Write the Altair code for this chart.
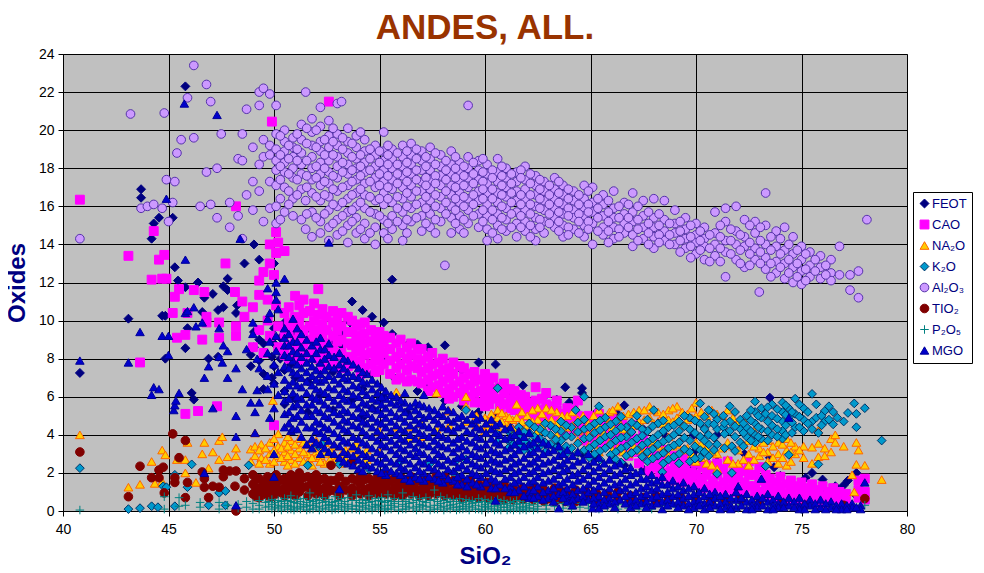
import altair as alt
import pandas as pd

SERIES = ["FEOT", "CAO", "NA₂O", "K₂O", "Al₂O₃", "TIO₂", "P₂O₅", "MGO"]
FILLS = ["#000080", "#ff00ff", "#ffcc00", "#0099cc", "#cc99ff", "#800000", "transparent", "#0000cc"]
STROKES = ["#000080", "#ff00ff", "#ff6600", "#003366", "#5533aa", "#800000", "#008080", "#000099"]
SHAPES = ["diamond", "square", "triangle-up", "diamond", "circle", "circle", "M-1,0H1M0,-1V1", "triangle-up"]
SIZES = [80, 72, 115, 100, 60, 72, 110, 125]
WIDTHS = [1, 1, 1, 1, 1, 1, 2, 0.8]

FEOT = [(40.8,[7.25]),(43.1,[10.1]),(43.7,[16.9,16.45]),(44.2,[14.3]),(44.3,[15.1]),(44.55,[15.4]),(44.7,[10.25]),(44.85,[10.25,8.0]),
(45.2,[15.4]),(45.3,[12.8]),(45.45,[12.1]),(45.8,[22.3,11.75,8.55]),(45.9,[9.6]),(46.1,[6.2]),(46.2,[5.85]),(46.4,[12.0]),(46.6,[10.45]),
(46.7,[11.2]),(46.9,[8.0]),(47.1,[11.4]),(47.35,[8.1,10.55]),(47.6,[11.8,10.7]),(47.8,[12.2,11.6]),(48.2,[10.4]),(48.25,[10.8]),(48.6,[13.0]),
(49.05,[14.0,9.4,8.6]),(49.3,[13.2,9.0,7.9]),(50.0,[13.0,9.6,8.8,7.6,6.7]),(50.5,[9.9,8.5,7.4,6.3,5.6]),(51.0,[9.3,8.1,7.0,5.9]),
(51.6,[9.6,8.4,6.8,5.2]),(52.2,[9.2,7.7,6.1]),(52.8,[9.0,7.3,5.3]),(53.7,[11.0,9.4,7.8,5.8]),(54.2,[10.55,8.8,6.4,4.9]),(54.65,[10.2,7.2,5.4]),
(55.2,[9.9,8.0,6.0]),(55.6,[12.15,9.3,7.1]),(56.3,[8.7,6.8,5.2]),(56.8,[8.75,6.3]),(57.3,[8.6,6.5]),(58.1,[8.7,5.8]),(58.9,[7.4,5.5]),
(59.7,[7.8,5.2]),(60.5,[7.7,5.0]),(61.2,[6.1,4.4]),(61.8,[6.6,4.2]),(62.8,[6.0,3.6]),(63.4,[5.85,3.4]),(63.8,[6.5,3.1]),(64.0,[5.7]),
(64.6,[6.45,6.2,3.0]),(65.3,[5.2,2.8]),(66.2,[5.2,2.6]),(66.6,[5.55,2.4]),(67.5,[4.3,2.2]),(68.6,[3.9,1.9]),(69.9,[4.0,3.1,2.3]),(71.0,[4.0,2.6]),
(72.3,[4.4,3.0,1.5]),(73.5,[5.95,2.8,1.1]),(73.7,[2.3]),(74.0,[1.85]),(75.2,[1.75]),(75.5,[2.0]),(76.0,[1.65,1.1]),(76.6,[1.3]),(77.0,[1.35]),(77.2,[1.6]),(77.6,[2.0,0.8]),
(48.9,[8.2,7.6]),(49.5,[8.8,7.2,6.4]),(49.9,[8.1,7.0]),(50.3,[9.1,8.0]),(50.8,[8.7,7.7]),(51.3,[9.5,8.9]),(51.9,[8.9,8.2]),(52.5,[9.5,8.6]),(53.2,[9.3,8.7]),(53.6,[9.9])]

CAO = [(40.8,[16.35]),(43.1,[13.4]),(43.65,[7.8]),(44.2,[12.15]),(44.3,[14.7]),(44.55,[13.2]),(44.7,[12.2]),(44.8,[13.45]),(44.9,[12.2]),
(45.2,[10.4]),(45.3,[11.25]),(45.4,[9.1]),(45.5,[11.65]),(45.8,[9.25,5.1]),(45.9,[10.4]),(46.2,[11.6]),(46.4,[5.25]),(46.6,[9.0]),(46.7,[11.5]),
(46.8,[10.2,9.9]),(47.3,[5.5]),(47.4,[9.9,9.1]),(47.7,[13.0]),(48.15,[11.5]),(48.2,[16.0,9.7,9.2]),(48.5,[11.0]),(48.6,[10.2]),(49.0,[10.7,8.6]),
(49.3,[12.1,11.35,9.5]),(49.5,[12.55,8.3]),(49.7,[11.1,10.0]),(49.8,[14.0,13.0,9.2]),(49.9,[20.45]),(50.0,[12.4,4.5]),(50.1,[14.65,13.55,10.8]),
(50.2,[14.1,9.7,8.6]),(50.5,[13.65,10.4,9.3,8.2]),(51.0,[11.3,10.2,9.7,9.0,8.4]),(51.4,[11.1,10.4,9.5,8.8,8.1]),(51.9,[10.9,10.0,9.3,8.6]),
(52.1,[11.65]),(52.3,[10.6,9.8,9.1,8.4,7.6]),(52.6,[21.5]),(52.8,[10.5,9.9,9.2,8.5,7.8]),(53.2,[10.4,9.7,9.0,8.3,7.5]),(53.7,[10.0,9.4,8.7,8.0]),
(54.1,[9.8,9.2,8.6,7.9,7.2]),(54.6,[9.5,8.9,8.3,7.7]),(55.0,[9.4,8.7,8.1,7.4]),(55.5,[9.1,8.5,7.9,7.2]),(56.0,[9.0,8.3,7.7,7.0]),(56.5,[8.8,8.2,7.6,6.9]),
(57.0,[8.5,7.9,7.3,6.7]),(57.5,[8.3,7.7,7.1,6.5]),(58.0,[8.0,7.4,6.8,6.2]),(58.5,[7.8,7.2,6.6,6.0]),(59.0,[7.5,7.0,6.4,5.8]),(59.5,[7.3,6.8,6.2,5.7]),
(60.0,[7.2,6.6,6.0,5.5]),(60.4,[7.0,6.4,5.9]),(60.9,[6.7,6.2,5.6]),(61.4,[6.3,5.8,5.3]),(61.9,[6.0,5.5,5.0]),(62.4,[6.5,5.8,5.2]),(62.9,[6.2,5.6,5.0]),
(63.4,[5.8,5.3,4.7]),(63.9,[5.4,4.9,4.4]),(64.4,[5.8,5.0,4.4]),(64.9,[5.0,4.5,3.9]),(65.4,[5.1,4.5,3.8]),(66.0,[5.0,4.3,3.6]),(66.5,[4.6,4.0,3.4]),
(67.0,[4.5,3.8,3.1]),(67.5,[4.0,3.4,2.8]),(68.0,[3.5,2.9,2.3]),(68.5,[3.2,2.6,2.0]),(69.0,[2.9,2.4,1.9]),(69.5,[2.8,2.2,1.7]),(70.0,[2.5,1.9,1.4]),
(70.5,[2.4,1.9,1.3]),(71.0,[2.5,1.9,1.3]),(71.5,[2.6,1.7,1.2]),(72.0,[2.3,1.8,1.1]),(72.5,[2.6,1.9,1.3]),(73.0,[2.3,1.6,1.0]),(73.5,[1.7,1.2,0.8]),
(74.0,[1.8,1.3,0.8]),(74.5,[1.6,1.1,0.7]),(75.0,[1.5,1.1,0.6]),(75.5,[1.4,0.9,0.5]),(76.0,[1.3,0.8,0.4]),(76.5,[1.2,0.7]),(77.1,[0.9,0.5]),(77.7,[1.6,1.1,0.7]),(78.0,[1.7,1.0,0.6]),
(50.7,[10.7,9.9,9.4,8.7,8.0]),(51.2,[10.8,10.0,9.3,8.6,7.9]),(51.7,[10.5,9.7,9.0,8.3]),(52.1,[10.3,9.5,8.8,8.0]),(52.5,[10.2,9.5,8.8,8.1]),(53.0,[10.1,9.5,8.9,8.2]),(53.5,[10.2,9.4,8.8,8.1,7.6]),
(53.9,[9.7,9.0,8.4,7.7]),(54.3,[9.9,9.3,8.8,8.2,7.5]),(54.8,[9.1,8.5,7.9,7.3]),(55.2,[9.2,8.8,8.3,7.7]),(55.8,[8.8,8.1,7.5,6.9]),(56.3,[8.6,8.0,7.4,6.8]),(56.8,[8.5,8.0,7.5,6.8]),(57.3,[8.1,7.5,6.9,6.3]),
(57.8,[7.8,7.2,6.6]),(58.3,[7.5,7.0,6.4,5.9]),(58.8,[7.6,6.8,6.2]),(59.3,[7.2,6.6,6.0]),(59.8,[6.9,6.3,5.7]),(60.2,[6.8,6.2,5.6]),(60.7,[6.5,5.9,5.4]),(61.2,[6.4,5.9,5.4]),(61.7,[6.1,5.6,5.1]),
(62.2,[5.7,5.2,4.8]),(62.7,[5.9,5.3,4.7]),(63.2,[5.5,5.0,4.5]),(63.7,[5.1,4.6,4.2]),(64.2,[5.3,4.7,4.2]),(64.7,[4.7,4.2,3.7]),(65.2,[4.8,4.2,3.6]),(65.7,[4.7,4.1,3.5]),(66.3,[4.4,3.8,3.2]),
(66.8,[4.2,3.5,2.9]),(67.3,[3.7,3.1,2.5]),(67.8,[3.2,2.7,2.1]),(68.3,[2.8,2.3,1.8]),(68.8,[2.7,2.1,1.6]),(69.3,[2.5,2.0,1.5]),(69.8,[2.6,2.0,1.5]),(70.3,[2.3,1.7,1.2]),(70.8,[2.2,1.6,1.1]),(71.3,[2.2,1.5,1.0]),
(71.8,[2.0,1.5,1.0]),(72.3,[2.1,1.5,1.0]),(72.8,[1.9,1.3,0.9]),(73.3,[1.9,1.4,0.9]),(73.8,[1.5,1.0,0.7]),(74.3,[1.4,0.9,0.6]),(74.8,[1.3,0.8,0.5]),(75.3,[1.2,0.7,0.5]),(75.8,[1.1,0.6]),(76.3,[1.0,0.6]),(76.8,[1.0,0.6])]

NA2O = [(40.8,[4.0]),(43.1,[1.25]),(43.65,[1.4]),(44.2,[2.6]),(44.35,[1.45]),(44.7,[3.2,1.55]),(44.85,[2.95]),(45.4,[2.7]),(45.8,[2.7,2.0]),(45.9,[3.6]),
(46.3,[1.5]),(46.6,[3.0]),(46.7,[3.6]),(46.9,[2.25]),(47.1,[3.1]),(47.4,[3.7,2.7]),(47.55,[3.9]),(47.8,[2.85]),(48.2,[3.3,2.9]),(48.9,[3.25,2.6]),
(49.1,[4.1,3.4,2.9]),(49.4,[3.5,2.8]),(49.8,[3.6,3.0,2.5]),(49.95,[5.8]),(50.2,[4.05,3.4,2.9]),(50.5,[3.6,3.1,2.6]),(50.8,[3.7,3.2,2.7]),(51.2,[3.8,3.3,2.8]),
(51.6,[3.5,3.0,2.6]),(52.0,[3.7,3.1,2.8]),(52.4,[3.6,3.0,2.5]),(52.9,[3.4,2.9,2.6]),(53.4,[3.2,2.7]),(53.9,[3.5,2.9]),(54.4,[3.2,2.7]),(55.0,[4.2,3.1]),
(55.8,[6.25,4.4]),(56.4,[4.4,3.8]),(57.0,[4.6,3.9]),(57.7,[6.2,4.3]),(58.3,[5.25,4.5]),(59.1,[6.0,5.5,4.7]),(59.6,[5.0,4.5]),(60.0,[4.9,4.5,4.2]),
(60.3,[5.1,4.6]),(60.6,[5.3,4.9,4.4]),(61.0,[5.0,4.6]),(61.3,[4.8,4.3]),(61.5,[5.6,4.9,4.4]),(62.0,[5.0,4.5]),(62.5,[5.4,4.8,4.2]),(62.9,[5.4,4.7]),(63.4,[5.2,4.6,4.0]),
(63.9,[5.0,4.4]),(64.4,[4.8,4.2,3.7]),(64.9,[4.6,4.0,3.4]),(65.4,[5.3,4.5,3.8,3.1]),(65.9,[5.2,4.7,3.6]),(66.3,[5.5,4.8,3.3]),(66.8,[5.1,4.2,3.0]),(67.3,[5.3,4.7,3.2]),
(67.8,[5.5,4.9,3.6,2.8]),(68.2,[5.2,4.7,3.4]),(68.7,[5.3,4.8,3.9,2.9]),(69.1,[5.5,4.9,3.5]),(69.6,[5.1,4.8,3.3]),(70.0,[5.7,5.0,3.6,2.6]),(70.5,[5.0,3.3,2.5]),(71.0,[5.1,3.0,2.2]),
(71.5,[5.3,3.6,2.7]),(72.0,[4.6,3.2,2.5]),(72.5,[4.9,3.7,3.0,2.4]),(73.0,[3.9,3.3,2.9]),(73.4,[3.7,3.1,2.6]),(73.9,[3.6,3.0,2.5]),(74.3,[3.8,3.2,2.4]),(74.7,[3.4,3.0]),
(75.1,[3.4,2.8]),(75.5,[3.35,2.5]),(75.8,[4.25,3.55,2.85]),(76.1,[3.3,2.9]),(76.4,[3.1,3.8]),(76.6,[4.0,3.6]),(77.0,[3.4]),(77.4,[1.9]),(77.5,[1.0]),(77.6,[3.6,2.45]),(77.7,[3.2]),(78.0,[2.4]),(78.8,[1.65]),
(49.3,[3.2,2.5]),(49.6,[3.3,2.7]),(50.0,[3.8,3.2,2.6]),(50.35,[3.3,2.8]),(50.65,[3.9,3.4,2.9,2.4]),(51.0,[3.5,3.0,2.5]),(51.4,[3.6,3.1,2.6]),(51.8,[3.3,2.8,2.4]),(52.2,[3.4,2.9,2.6]),(52.65,[3.2,2.7]),
(53.2,[3.0,2.5]),(53.65,[3.3,2.7]),(60.15,[4.7,4.35]),(60.8,[5.15,4.7]),(61.15,[4.9,4.45]),(61.75,[5.2,4.7,4.2]),(62.25,[5.3,4.7]),(62.7,[5.1,4.5]),(63.15,[5.3,4.8]),(63.65,[5.0,4.4]),(64.15,[5.2,4.5]),(64.65,[5.0,4.3]),
(65.15,[5.0,4.2,3.5]),(65.65,[4.9,4.1]),(66.05,[5.3,4.4,3.2]),(66.55,[5.0,4.3,3.1]),(67.05,[5.2,4.5,3.4]),(67.55,[5.3,4.8,3.1]),(68.0,[5.3,4.6,3.7]),(68.45,[5.1,4.6,3.2]),(68.9,[5.4,4.7,3.4]),(69.35,[5.2,4.5,3.2]),(69.8,[5.4,4.9,3.0]),
(70.25,[5.2,3.5,2.8]),(70.75,[5.3,3.1,2.4]),(71.25,[5.0,3.3]),(71.75,[4.9,3.4,2.5]),(72.25,[4.5,3.5,2.7]),(72.75,[4.2,3.4,2.7]),(73.2,[3.6,3.1]),(73.65,[3.4,2.8]),(74.1,[3.5,2.8]),(74.5,[3.6,3.1,2.6]),(74.9,[3.2])]

K2O = [(40.8,[2.25]),(43.1,[0.1]),(43.65,[0.15]),(44.2,[0.25]),(44.5,[0.2]),(44.75,[1.3]),(44.9,[1.25]),(45.3,[1.9,0.25]),(45.9,[1.25]),(46.1,[2.45]),(46.9,[0.3]),(47.4,[0.95]),(47.7,[1.05,0.3]),
(48.8,[2.4]),(50.6,[1.5]),(51.6,[2.4]),(52.1,[3.4]),(52.3,[3.5]),(53.1,[2.45]),(54.5,[2.2]),(56.0,[1.8,2.6]),(57.4,[2.5]),(58.6,[2.6,1.9]),(59.1,[5.3,2.7]),
(60.6,[6.45,4.0,3.6]),(61.1,[4.2,3.7,3.3]),(61.6,[4.4,3.9,3.4]),(62.1,[4.6,4.1,3.6,3.2]),(62.6,[4.3,3.8,3.4]),(63.1,[4.5,4.0,3.5]),(63.6,[4.7,4.2,3.7,3.2]),(64.1,[4.4,3.9,3.3]),
(64.3,[5.3]),(64.7,[6.0,4.8,4.3,3.8,3.2]),(65.2,[4.6,4.1,3.5,3.0]),(65.4,[5.5]),(65.7,[4.9,4.4,3.9,3.3]),(66.2,[4.7,4.2,3.7,3.1,2.7]),(66.7,[4.4,3.9,3.4,2.9]),(67.2,[5.0,4.5,3.8,3.2]),
(67.7,[4.8,4.2,3.6,3.1,2.6]),(68.0,[5.3]),(68.2,[4.6,4.0,3.5,2.9]),(68.4,[2.05]),(68.7,[4.4,3.8,3.3,2.7]),(69.2,[4.7,4.2,3.6,3.0,2.5]),(69.7,[4.9,4.3,3.7,3.1,2.6]),(70.2,[5.65,4.6,3.9,3.2,2.8]),
(70.6,[5.3,4.6,4.0,3.5,2.9]),(71.0,[4.8,4.3,3.5,1.95]),(71.3,[5.0,4.4]),(71.6,[5.5,4.7,4.2]),(71.7,[3.4,2.0]),(72.1,[4.8,4.3,3.6]),(72.4,[5.0,4.4,3.9]),(72.8,[5.75,5.2,4.6,4.0,3.6]),
(73.1,[5.4,4.9,4.3,3.8]),(73.3,[5.1,2.35]),(73.6,[5.6,5.0,4.5,4.0]),(74.1,[5.7,5.2,4.7,4.2,3.8]),(74.4,[5.4,4.9,2.95]),(74.7,[5.9,5.1,4.4]),(75.1,[5.4,4.8,4.2]),(75.5,[6.15,4.7,4.3]),
(75.7,[5.6,4.9]),(75.8,[2.45,4.1]),(76.1,[5.25,4.7]),(76.3,[5.5,4.8]),(76.7,[4.9]),(77.0,[4.7]),(77.2,[5.15]),(77.5,[5.65]),(77.6,[5.1,4.4]),(78.0,[5.4]),(78.8,[3.7]),
(61.35,[3.95,3.5]),(61.85,[4.15,3.65,3.2]),(62.35,[4.4,3.9,3.3]),(62.85,[4.6,4.1,3.6,3.1]),(63.35,[4.3,3.75,3.3]),(63.85,[4.5,3.95,3.4,3.0]),(64.4,[4.65,4.15,3.55,3.05]),(64.95,[4.4,3.85,3.3,2.8]),
(65.45,[4.75,4.25,3.7,3.15,2.7]),(65.95,[4.55,4.0,3.5,2.95]),(66.45,[4.95,4.4,3.85,3.3,2.55]),(66.95,[4.65,4.15,3.6,3.05]),(67.45,[4.3,3.95,3.45,2.85]),(67.95,[4.45,3.8,3.25,2.75]),(68.45,[4.75,4.2,3.65,3.05,2.5]),
(68.95,[4.5,4.0,3.45,2.85]),(69.45,[5.0,4.45,3.85,3.25]),(69.95,[4.75,4.1,3.4,2.75]),(70.4,[4.95,4.3,3.7,3.1]),(70.85,[5.1,4.55,3.85,3.2]),(71.35,[4.6,4.05,3.3]),(71.85,[5.2,4.45,3.9,3.15]),(72.25,[4.6,4.1,3.4]),(72.6,[5.3,4.75,4.2,3.7]),
(72.95,[5.0,4.4,3.9]),(73.4,[5.45,4.7,4.2,3.7]),(73.85,[5.35,4.85,4.3,3.9]),(74.25,[5.55,5.05,4.5,4.0]),(74.55,[5.2,4.65,4.1]),(74.9,[5.6,4.95,4.4]),(75.3,[5.2,4.6]),(75.95,[5.0,4.5]),(76.5,[5.2,4.55])]

AL2O3 = [(40.8,[14.3]),(43.2,[20.85]),(43.7,[15.9]),(44.0,[16.0]),(44.3,[16.1]),(44.7,[15.9]),(44.8,[20.9]),(44.9,[17.4]),(45.0,[15.2]),(45.2,[16.2]),(45.3,[17.3]),(45.4,[18.8]),(45.6,[19.5]),
(45.9,[21.7]),(46.2,[23.4,19.6]),(46.5,[16.0]),(46.8,[22.4,17.8]),(47.0,[21.5,16.1]),(47.3,[18.0,15.4]),(47.5,[19.8]),(47.9,[16.2,14.9]),(48.3,[18.5,15.5]),(48.5,[19.8,18.4,14.3]),(48.7,[21.1,16.6]),
(49.0,[17.3,15.8,19.1]),(49.3,[22.0,21.3,18.2,16.8]),(49.5,[22.2,19.5,18.6,15.2]),(49.8,[21.9,19.2,18.7,17.3,15.9]),(50.1,[21.3,19.8,19.0,18.4,17.9,17.1,16.0,15.1]),
(50.5,[20.0,19.4,18.9,18.3,17.8,17.0,15.7]),(50.9,[19.6,19.1,18.6,18.0,17.5,16.4,15.5]),(51.3,[20.3,19.5,18.8,18.2,17.7,16.9,15.3]),(51.5,[22.0,16.3,14.8]),
(51.8,[20.6,19.9,19.2,18.6,18.0,17.4,16.7,15.7,14.4]),(52.2,[21.2,20.2,19.4,18.9,18.3,17.7,17.1,16.3,15.2,14.6]),(52.6,[20.5,19.7,19.1,18.4,17.8,17.2,16.5,15.8,14.9,14.2]),
(53.0,[21.4,19.8,19.2,18.6,18.1,17.5,16.8,16.0,15.3,14.5]),(53.2,[21.5]),(53.5,[20.1,19.4,18.8,18.2,17.7,17.1,16.4,15.7,15.0,14.1]),(53.9,[19.7,19.1,18.5,18.0,17.4,16.7,16.0,15.4,14.6]),
(54.3,[19.5,18.9,18.3,17.8,17.2,16.6,15.9,15.1,14.3]),(54.8,[19.2,18.7,18.1,17.5,17.0,16.3,15.6,14.9,14.0]),(55.2,[19.9,18.9,18.4,17.9,17.3,16.7,16.1,15.3,14.6]),
(55.6,[19.0,18.5,18.0,17.4,16.9,16.2,15.5,14.8]),(56.1,[19.2,18.6,18.1,17.6,17.0,16.4,15.7,15.0,14.2]),(56.5,[19.3,18.7,18.2,17.7,17.1,16.5,15.9,15.2]),(57.0,[18.9,18.4,17.9,17.3,16.8,16.2,15.5,14.7]),
(57.4,[19.1,18.5,17.9,17.4,16.9,16.3,15.6,14.9]),(57.9,[18.7,18.1,17.6,17.1,16.5,15.9,15.2]),(58.1,[12.9]),(58.4,[18.9,18.2,17.7,17.1,16.6,16.0,15.4,14.6]),(58.8,[18.3,17.8,17.3,16.7,16.2,15.5,14.8]),
(59.2,[21.3,18.6,18.0,17.5,17.0,16.4,15.8,15.1]),(59.7,[18.4,17.9,17.4,16.8,16.3,15.6,14.9]),(60.1,[18.2,17.7,17.2,16.7,16.1,15.5,14.8,14.2]),(60.6,[18.5,17.8,17.3,16.7,16.2,15.6,15.0,14.3]),
(61.0,[18.0,17.5,17.0,16.5,15.9,15.3,14.7]),(61.5,[17.8,17.3,16.8,16.3,15.7,15.1,14.4]),(61.9,[18.1,17.4,16.9,16.4,15.8,15.2,14.7]),(62.4,[17.6,17.1,16.6,16.0,15.4,14.8,14.2]),
(62.8,[17.3,16.8,16.3,15.8,15.2,14.6]),(63.3,[17.5,16.9,16.4,15.9,15.4,14.9]),(63.7,[17.1,16.6,16.1,15.6,15.0,14.4]),(64.2,[16.8,16.3,15.8,15.4,14.8]),(64.7,[17.1,16.4,15.9,15.5,15.0,14.4]),
(65.1,[17.0,16.2,15.7,15.1,14.0]),(65.6,[16.6,16.1,15.5,14.9,14.5]),(66.1,[16.8,15.9,15.4,14.9,14.3]),(66.6,[16.2,15.6,15.1,14.6]),(67.0,[16.7,15.7,15.2,14.5,13.9]),(67.5,[16.3,15.5,14.9,14.3]),
(68.0,[16.4,15.4,14.9,14.4,13.8]),(68.5,[16.3,15.3,14.7,14.2]),(69.0,[15.8,15.1,14.6,14.0]),(69.5,[15.4,14.8,14.3,13.8]),(70.0,[15.1,14.5,14.1,13.5]),(70.4,[14.9,14.3,13.9,13.2]),
(70.9,[15.7,14.6,14.0,13.4]),(71.4,[15.9,15.2,14.2,13.6,12.3]),(71.9,[16.0,14.7,14.0,13.2]),(72.3,[15.3,14.4,13.9,12.8]),(72.8,[15.2,14.6,13.8,13.2]),(73.0,[11.5]),(73.3,[16.7,15.0,14.0,13.3,12.7]),
(73.8,[14.7,13.9,13.1,12.5]),(74.2,[14.9,13.7,13.0,12.2]),(74.6,[14.4,13.5,12.8,12.0]),(75.0,[13.9,13.2,12.6,11.9]),(75.4,[13.6,12.9,12.3]),(75.9,[13.4,12.8,12.2]),(76.4,[13.2,12.5,12.1]),
(76.8,[13.9,12.4]),(77.3,[12.4,11.6]),(77.7,[12.6,11.2]),(78.1,[15.3]),
(50.3,[19.7,18.7,18.1,17.4,16.4,15.3]),(50.7,[19.2,18.5,17.7,16.8,16.1]),(51.1,[19.8,19.0,18.4,17.4,16.6]),(51.55,[20.1,19.3,18.4,17.6,17.0,15.6]),(52.0,[20.0,19.1,18.1,17.5,16.5,15.4]),(52.4,[19.5,18.7,18.0,17.3,16.6,15.6]),
(52.8,[20.1,19.4,18.7,17.6,16.9,16.1,15.1]),(53.25,[19.6,19.0,18.3,17.8,17.0,16.2,15.5,14.7]),(53.7,[19.3,18.6,17.9,17.3,16.6,15.8,15.2]),(54.1,[19.9,18.7,18.1,17.6,16.9,16.2,14.8]),(54.55,[19.0,18.5,17.9,17.3,16.5,15.7,14.6]),
(55.0,[18.9,18.3,17.7,17.1,16.4,15.5]),(55.4,[19.2,18.7,18.2,17.6,17.0,16.4,15.1,14.3]),(55.85,[18.8,18.2,17.7,17.2,16.5,15.9,15.2]),(56.3,[18.9,18.3,17.8,17.3,16.7,16.0,15.3,14.6]),(56.75,[19.0,18.5,17.9,17.4,16.8,16.1,15.4]),
(57.2,[18.6,18.1,17.5,17.1,16.5,15.9,15.1]),(57.65,[18.8,18.2,17.6,17.2,16.6,16.0,15.3,14.6]),(58.15,[18.4,17.9,17.4,16.8,16.2,15.6]),(58.6,[18.6,18.0,17.5,17.0,16.4,15.8,15.1]),(59.0,[18.1,17.6,17.1,16.5,16.0,15.3,14.6]),
(59.45,[18.3,17.7,17.2,16.6,16.1,15.5]),(59.9,[18.5,17.8,17.3,16.9,16.4,15.8,15.2]),(60.35,[17.9,17.5,16.9,16.4,15.8,15.3,14.6]),(60.8,[18.1,17.6,17.1,16.6,16.0,15.4,14.8]),(61.25,[17.7,17.2,16.7,16.2,15.6,14.9]),
(61.7,[17.9,17.5,16.6,16.1,15.5,14.9]),(62.15,[17.7,17.2,16.6,16.1,15.6,15.0,14.4]),(62.6,[17.4,16.9,16.4,15.9,15.3,14.9]),(63.05,[17.1,16.6,16.1,15.6,15.1]),(63.5,[17.3,16.7,16.2,15.7,15.2,14.7]),(63.95,[16.9,16.4,15.9,15.5,14.9,14.5]),
(64.45,[16.6,16.1,15.6,15.2,14.6]),(64.9,[16.8,16.1,15.7,15.2,14.8]),(65.35,[16.4,15.9,15.4,14.7]),(65.85,[16.3,15.7,15.2,14.7,14.1]),(66.35,[16.0,15.4,14.8,14.4]),(66.8,[16.1,15.4,14.9]),(67.25,[16.0,15.3,14.8,14.2]),
(67.75,[15.7,15.1,14.6,14.0]),(68.25,[15.6,15.0,14.5,14.1]),(68.75,[15.1,14.5,14.0]),(69.25,[15.2,14.7,14.2,13.6]),(69.75,[15.0,14.4,13.9,13.3]),(70.2,[14.7,14.2,13.7]),(70.65,[14.5,13.8,13.1]),(71.15,[15.0,14.4,13.8,13.1]),
(71.65,[14.8,14.2,13.5]),(72.1,[14.5,13.7,13.0]),(72.55,[15.0,14.1,13.5,12.9]),(73.05,[14.9,14.2,13.6,13.0]),(73.55,[14.4,13.7,13.0,12.3]),(74.0,[14.3,13.5,12.8]),(74.4,[14.0,13.2,12.5]),(74.8,[13.7,13.0,12.3]),(75.2,[13.5,12.7,12.1]),(75.65,[13.2,12.6]),(76.15,[12.9,12.4])]

TIO2 = [(40.8,[3.1]),(43.1,[0.75]),(43.65,[2.35]),(44.2,[1.75]),(44.55,[2.15,1.75]),(44.75,[2.3]),(44.8,[0.95]),(45.2,[4.05]),(45.3,[1.5,1.75]),(45.5,[2.8]),(45.8,[3.7,0.7]),(45.9,[1.5]),
(46.6,[2.05]),(46.7,[1.7,1.25]),(46.9,[0.7]),(47.1,[1.3]),(47.4,[1.25]),(47.6,[2.15,1.8]),(47.9,[2.1]),(48.15,[1.3]),(48.2,[2.1,0.0]),(48.6,[1.7,1.1]),(49.0,[1.9,1.4,0.9]),
(49.3,[1.7,1.2,0.7]),(49.7,[1.8,1.3,0.8]),(50.1,[1.9,1.4,0.9]),(50.5,[1.7,1.2,0.8]),(50.8,[1.9,1.4,0.9]),(51.2,[2.0,1.5,1.0]),(51.6,[1.8,1.3,0.8]),(52.0,[1.9,1.4,0.9]),(52.4,[1.7,1.2,0.8]),
(52.7,[2.4,1.6,1.1]),(53.1,[1.8,1.3,0.8]),(53.7,[2.5,1.7,1.2,0.8]),(54.1,[1.9,1.4,0.9]),(54.5,[1.7,1.2,0.8]),(54.9,[1.8,1.3,0.9]),(55.3,[1.9,1.4,0.9]),(55.7,[1.7,1.2,0.8]),(56.1,[1.7,1.3,0.8]),
(56.5,[1.8,1.3,0.9]),(56.9,[1.6,1.1,0.8]),(57.3,[1.7,1.2,0.8]),(57.7,[1.9,1.3,0.9]),(58.1,[1.8,1.2,0.8]),(58.5,[1.6,1.1,0.8]),(58.9,[1.5,1.1,0.7]),(59.3,[1.6,1.1,0.7]),(59.7,[1.4,1.0,0.7]),(60.1,[1.5,1.0,0.7]),
(60.5,[1.3,0.9,0.6]),(60.9,[1.4,1.0,0.6]),(61.3,[1.2,0.8,0.6]),(61.8,[1.2,0.9,0.6]),(62.3,[1.3,0.9,0.6]),(62.8,[1.1,0.8,0.5]),(63.3,[1.2,0.8,0.5]),(63.8,[1.0,0.7,0.5]),(64.3,[1.1,0.7,0.5]),(64.8,[1.0,0.7]),
(65.3,[0.9,0.6]),(65.8,[0.9,0.6]),(66.3,[1.0,0.6]),(66.9,[0.8,0.5]),(67.5,[0.7,0.5]),(68.1,[0.8,0.5]),(68.7,[0.6]),(69.3,[0.7,0.4]),(70.0,[0.6]),(70.7,[0.5]),(71.4,[0.5]),(72.1,[0.6]),(73.0,[0.4]),(74.1,[0.4]),(75.2,[0.3]),(77.0,[0.3]),(78.0,[0.65]),
(49.15,[1.65,1.15,0.75]),(49.5,[1.5,1.0]),(49.9,[1.6,1.1,0.75]),(50.3,[1.6,1.1]),(50.65,[1.5,1.0]),(51.0,[1.7,1.2,0.8]),(51.4,[1.75,1.25]),(51.8,[1.6,1.1]),(52.2,[1.65,1.15]),(52.55,[1.45,1.0]),(52.9,[1.6,1.05]),(53.4,[1.55,1.1]),
(53.9,[1.6,1.05]),(54.3,[1.65,1.1]),(54.7,[1.5,1.0]),(55.1,[1.6,1.15]),(55.5,[1.55,1.05]),(55.9,[1.5,1.0]),(56.3,[1.55,1.05]),(56.7,[1.5,1.05]),(57.1,[1.4,1.0]),(57.5,[1.5,1.0]),(57.9,[1.6,1.1]),(58.3,[1.5,1.0]),(58.7,[1.35,0.95]),
(59.1,[1.3,0.9]),(59.5,[1.35,0.9]),(59.9,[1.2,0.85]),(60.3,[1.25,0.85]),(60.7,[1.15,0.8]),(61.1,[1.15,0.8]),(61.55,[1.05,0.75]),(62.05,[1.05,0.75]),(62.55,[1.1,0.7]),(63.05,[0.95,0.65]),(63.55,[1.0,0.65]),(64.05,[0.85,0.6])]

P2O5 = [(40.8,[0.05]),(44.8,[0.75,0.1]),(45.5,[0.7,0.25]),(45.8,[0.3]),(46.5,[0.45,0.2]),(47.4,[0.45,0.1]),(47.8,[0.3]),(48.3,[0.35,0.15]),(48.7,[0.5,0.2]),(49.0,[0.4,0.1]),(49.3,[0.55,0.3,0.1]),(49.6,[0.45,0.2]),
(49.9,[0.6,0.35,0.1]),(50.2,[0.55,0.3,0.15]),(50.5,[0.65,0.4,0.2]),(50.8,[0.8,0.5,0.25,0.1]),(51.1,[0.6,0.4,0.15]),(51.4,[0.65,0.35,0.2]),(51.7,[0.95,0.55,0.3,0.1]),(52.0,[0.6,0.4,0.2]),(52.3,[0.7,0.45,0.15]),
(52.6,[0.6,0.35,0.2]),(52.9,[0.75,0.5,0.25,0.1]),(53.2,[0.65,0.4,0.2]),(53.5,[0.7,0.35,0.15]),(53.9,[0.85,0.55,0.3,0.1]),(54.2,[0.6,0.4,0.2]),(54.5,[0.8,0.45,0.15]),(54.8,[0.65,0.35,0.2]),(55.1,[0.7,0.5,0.25]),
(55.4,[0.85,0.55,0.3,0.1]),(55.7,[0.65,0.4,0.2]),(56.1,[0.95,0.6,0.35,0.1]),(56.4,[0.6,0.4,0.2]),(56.6,[0.75,0.45,0.15]),(56.9,[0.65,0.35,0.2]),(57.2,[0.7,0.45,0.25]),(57.6,[1.1,0.6,0.3,0.1]),(57.9,[0.75,0.4,0.2]),
(58.2,[0.65,0.45,0.15]),(58.5,[0.6,0.35,0.2]),(58.8,[0.65,0.4,0.25,0.1]),(59.1,[0.6,0.35,0.15]),(59.4,[0.55,0.4,0.2]),(59.7,[0.65,0.45,0.1]),(60.0,[0.6,0.35,0.2]),(60.3,[0.55,0.4,0.15]),(60.6,[0.6,0.3,0.1]),
(60.9,[0.55,0.35,0.2]),(61.2,[0.5,0.3,0.1]),(61.5,[0.55,0.35,0.15]),(61.8,[0.5,0.25,0.1]),(62.1,[0.5,0.3,0.15]),(62.5,[0.45,0.25,0.1]),(62.9,[0.5,0.3,0.1]),(63.3,[0.45,0.25]),(63.7,[0.4,0.15]),(64.1,[0.45,0.25,0.1]),
(64.5,[0.4,0.2]),(64.9,[0.4,0.15]),(65.4,[0.35,0.1]),(65.8,[0.4,0.2]),(66.3,[0.35,0.1]),(66.8,[0.3,0.15]),(67.3,[0.35,0.1]),(67.9,[0.25,0.1]),(68.5,[0.3]),(69.1,[0.2]),(70.0,[0.2]),(71.0,[0.15]),(72.0,[0.15]),(73.5,[0.1]),(75.0,[0.1]),(78.0,[0.3]),
(49.75,[0.5,0.25]),(50.05,[0.45,0.2]),(50.35,[0.5,0.25,0.05]),(50.65,[0.55,0.3,0.1]),(50.95,[0.45,0.2,0.05]),(51.25,[0.5,0.25,0.1]),(51.55,[0.45,0.25,0.05]),(51.85,[0.5,0.3,0.1]),(52.15,[0.55,0.25,0.05]),(52.45,[0.5,0.3,0.1]),(52.75,[0.45,0.3,0.05]),
(53.05,[0.55,0.3,0.1]),(53.35,[0.5,0.25,0.05]),(53.7,[0.55,0.25,0.1]),(54.05,[0.45,0.25,0.05]),(54.35,[0.55,0.3,0.1]),(54.65,[0.5,0.25,0.05]),(54.95,[0.55,0.3,0.1]),(55.25,[0.45,0.15,0.05]),(55.55,[0.5,0.3,0.1]),(55.9,[0.5,0.25,0.05]),
(56.25,[0.5,0.25,0.1]),(56.75,[0.55,0.25,0.05]),(57.05,[0.5,0.3,0.1]),(57.4,[0.55,0.2,0.05]),(57.75,[0.5,0.3,0.1]),(58.05,[0.55,0.25,0.05]),(58.35,[0.5,0.3,0.1]),(58.65,[0.5,0.2,0.05]),(58.95,[0.45,0.25,0.1]),(59.25,[0.5,0.25,0.05]),
(59.55,[0.45,0.3,0.1]),(59.85,[0.5,0.25,0.05]),(60.15,[0.45,0.25,0.1]),(60.45,[0.5,0.25,0.05]),(60.75,[0.45,0.2,0.05]),(61.05,[0.4,0.2,0.05]),(61.35,[0.45,0.25,0.05]),(61.65,[0.4,0.2,0.05]),(61.95,[0.4,0.2,0.05]),(62.3,[0.35,0.15,0.05])]

MGO = [(40.8,[7.9]),(43.1,[7.8]),(43.65,[9.4]),(44.2,[6.1]),(44.3,[6.5]),(44.55,[6.4]),(44.7,[9.2]),(44.9,[16.4]),(45.0,[9.2,8.2]),(45.25,[5.3]),(45.3,[5.55]),(45.35,[5.8]),(45.5,[6.2]),
(45.75,[21.4]),(45.8,[13.2,10.4]),(45.9,[10.5]),(46.2,[10.7]),(46.3,[9.7]),(46.6,[9.9]),(46.7,[7.0,2.0]),(46.9,[7.6]),(47.1,[5.4]),(47.3,[20.8]),(47.4,[9.6,8.1]),(47.55,[7.8]),(47.6,[8.7]),
(47.8,[8.4,7.0]),(48.2,[7.5,5.0,3.9,0.3]),(48.4,[14.3]),(48.5,[6.4]),(48.7,[8.5]),(48.9,[5.7]),(49.0,[9.9,9.3]),(49.1,[5.2,4.1]),(49.2,[6.35,8.0]),(49.3,[5.7,7.5]),(49.7,[11.7,10.1,8.3,7.1,6.4]),
(49.8,[10.4,8.9,4.9]),(50.0,[7.7,6.7,5.4,3.0,1.8]),(50.1,[12.0,11.5,11.1,9.2,8.4]),(50.2,[10.6,7.3,6.1]),(50.5,[12.2,9.6,9.1,8.7,8.2,7.6,6.9,6.3,5.8,5.1,4.4]),
(50.8,[4.2]),(50.9,[10.1,8.9,8.4,7.9,7.3,6.8,6.2,5.5,4.9,4.3]),(51.3,[9.3,8.6,8.1,7.5,7.0,6.5,5.9,5.3,4.7,3.9]),(51.8,[8.7,8.0,7.6,7.1,6.6,6.0,5.6,5.0,4.4,3.8,3.3]),
(52.2,[9.1,8.5,7.8,7.2,6.8,6.3,5.8,5.2,4.6,4.1,3.5,3.0]),(52.6,[14.1,8.8,8.2,7.6,7.1,6.5,6.0,5.4,4.9,4.3,3.7,3.1]),(53.1,[8.3,7.7,7.2,6.7,6.1,5.6,5.1,4.5,3.9,3.4,2.8,1.15]),
(53.5,[7.9,7.3,6.9,6.3,5.8,5.2,4.7,4.2,3.6,3.0,2.5]),(54.0,[7.5,7.0,6.5,6.0,5.4,4.9,4.4,3.8,3.2,2.7,2.2]),(54.4,[7.2,6.7,6.1,5.6,5.1,4.6,4.0,3.5,2.9,2.4]),
(54.9,[6.7,6.2,5.8,5.3,4.7,4.2,3.7,3.1,2.6,2.1]),(55.3,[6.3,5.9,5.4,4.9,4.4,3.9,3.4,2.8,2.3,1.9]),(55.8,[6.0,5.6,5.0,4.5,4.0,3.5,3.0,2.5,2.0]),(56.2,[6.2,5.7,5.2,4.7,4.2,3.7,3.2,2.7,2.2,1.7]),
(56.7,[5.7,5.3,4.8,4.3,3.8,3.3,2.9,2.3,1.8]),(57.1,[6.1,5.5,4.9,4.5,4.0,3.5,3.0,2.5,2.0,1.6]),(57.6,[5.3,4.8,4.2,3.7,3.2,2.7,2.2,1.7]),(58.0,[5.5,5.0,4.4,3.9,3.4,2.9,2.4,1.9,1.5]),
(58.5,[5.2,4.7,4.2,3.6,3.1,2.6,2.1,1.6]),(58.9,[5.0,4.5,3.9,3.4,2.9,2.4,1.9,1.4]),(59.4,[5.1,4.6,4.1,3.6,3.0,2.5,2.0,1.5]),(59.8,[4.9,4.3,3.8,3.3,2.8,2.3,1.8,1.3]),(60.3,[4.8,4.3,3.8,3.2,2.7,2.2,1.7,1.2]),
(60.5,[0.55]),(60.7,[4.6,4.0,3.5,3.0,2.5,2.0,1.4]),(61.2,[4.4,3.9,3.3,2.8,2.3,1.8,1.3,1.0]),(61.6,[4.2,3.7,3.2,2.6,2.1,1.6,1.1]),(62.1,[4.1,3.5,3.0,2.5,2.0,1.5,1.0,0.7]),(62.5,[3.8,3.3,2.8,2.3,1.8,1.3,0.8]),
(63.0,[3.5,3.1,2.6,2.1,1.6,1.1,0.7]),(63.5,[3.4,2.9,2.4,1.9,1.4,0.9,0.15]),(63.9,[3.2,2.7,2.2,1.7,1.2,0.8,0.5]),(64.4,[3.1,2.6,2.0,1.6,1.1,0.7]),(64.9,[3.0,2.4,1.9,1.4,1.0,0.6]),
(65.1,[0.15]),(65.4,[2.8,2.3,1.8,1.3,0.8,0.4,0.15]),(65.9,[2.7,2.2,1.7,1.2,0.7,0.4]),(66.4,[2.5,2.0,1.5,1.1,0.6]),(66.9,[2.3,1.9,1.4,0.9,0.5,0.2]),(67.4,[2.1,1.7,1.2,0.8,0.4]),
(67.9,[1.9,1.5,1.1,0.7,0.3]),(68.4,[1.8,1.4,0.9,0.5,0.1]),(68.9,[1.6,1.2,0.8,0.4]),(69.4,[1.5,1.1,0.7,0.3]),(69.9,[1.3,0.9,0.5,0.2]),(70.4,[1.2,0.8,0.4,0.1]),(70.9,[1.0,0.7,0.3]),(71.4,[0.9,0.5,0.2]),
(71.9,[1.0,0.6,0.2]),(72.0,[1.3]),(72.4,[0.9,0.5,0.1]),(72.9,[0.8,0.4,0.2]),(73.1,[1.7]),(73.4,[0.9,0.5,0.1]),(73.9,[0.8,0.4,0.2]),(74.4,[4.9,0.7,0.3]),(74.9,[0.7,0.3,0.1]),(75.4,[0.6,0.3]),(75.9,[0.6,0.2]),
(76.4,[0.5,0.2]),(76.9,[0.4,0.1]),(77.4,[0.4,0.2]),(77.8,[0.3,0.1]),(78.0,[1.5]),
(50.7,[9.3,8.7,8.1,7.5,6.6,5.9,5.2,4.6]),(51.1,[9.6,8.9,8.3,7.7,7.2,6.6,6.0,5.6,5.0,4.3]),(51.55,[9.0,8.3,7.8,7.3,6.8,6.2,5.6,5.0,4.4,3.5]),(52.0,[8.9,8.3,7.4,6.9,6.4,5.9,5.3,4.7,4.2,3.6]),
(52.4,[8.5,8.0,7.4,6.9,6.2,5.6,5.0,4.4,3.9,3.3]),(52.85,[8.1,7.5,6.9,6.4,5.8,5.2,4.7,4.1,3.5,3.0]),(53.3,[8.0,7.5,7.0,6.4,5.9,5.3,4.8,4.3,3.7,3.1,2.6]),(53.75,[7.7,7.1,6.6,6.1,5.6,5.0,4.5,3.9,3.4,2.9,2.4]),
(54.2,[7.3,6.8,6.3,5.7,5.2,4.7,4.2,3.6,3.0,2.5,2.1]),(54.65,[6.9,6.4,5.9,5.4,4.9,4.4,3.9,3.3,2.8,2.3]),(55.1,[6.5,6.0,5.6,5.1,4.6,4.0,3.5,3.0,2.5,2.0]),(55.55,[6.1,5.7,5.2,4.7,4.2,3.7,3.2,2.6,2.1]),
(56.0,[5.8,5.4,4.9,4.3,3.8,3.3,2.8,2.3,1.9]),(56.45,[5.5,5.0,4.5,4.0,3.5,3.0,2.5,2.0,1.6]),(56.9,[5.6,5.1,4.6,4.1,3.6,3.1,2.6,2.1,1.7]),(57.35,[5.4,5.0,4.4,3.9,3.4,2.8,2.3,1.8]),(57.8,[5.1,4.6,4.0,3.5,3.0,2.5,2.0,1.6]),
(58.25,[5.3,4.8,4.3,3.8,3.3,2.7,2.2,1.7]),(58.7,[4.9,4.4,3.8,3.3,2.8,2.3,1.8,1.4]),(59.15,[4.8,4.2,3.7,3.2,2.7,2.2,1.7,1.3]),(59.6,[4.8,4.4,3.9,3.4,2.9,2.4,1.9,1.4]),(60.05,[4.6,4.1,3.5,3.0,2.5,2.0,1.5]),
(60.5,[4.5,4.1,3.6,3.1,2.6,2.1,1.6,1.2]),(60.95,[4.3,3.8,3.2,2.7,2.2,1.7,1.2]),(61.4,[4.0,3.5,3.0,2.5,2.0,1.5,1.0]),(61.85,[3.9,3.4,2.8,2.3,1.8,1.3,0.8]),(62.3,[3.6,3.1,2.6,2.1,1.6,1.1,0.7]),(62.75,[3.6,3.0,2.5,2.0,1.5,1.0,0.6]),
(63.25,[3.2,2.7,2.2,1.7,1.2,0.8,0.5]),(63.7,[3.0,2.5,2.1,1.5,1.0,0.7]),(64.15,[2.9,2.4,1.9,1.4,0.9,0.6,0.3]),(64.65,[2.7,2.2,1.7,1.2,0.8,0.5]),(65.15,[2.6,2.1,1.6,1.1,0.7,0.4]),(65.65,[2.5,2.0,1.5,1.0,0.6,0.3]),
(66.15,[2.4,1.9,1.4,0.9,0.5,0.2]),(66.65,[2.2,1.7,1.2,0.8,0.4]),(67.15,[2.0,1.5,1.0,0.6,0.3]),(67.65,[1.7,1.3,0.9,0.5,0.2]),(68.15,[1.6,1.2,0.8,0.4]),(68.65,[1.4,1.0,0.6,0.3]),(69.15,[1.3,0.9,0.5,0.2]),(69.65,[1.2,0.8,0.4,0.1]),
(70.15,[1.0,0.6,0.3]),(70.65,[0.9,0.5,0.2]),(71.15,[0.8,0.4,0.1]),(71.65,[0.7,0.3,0.1]),(72.15,[0.7,0.3]),(72.65,[0.6,0.3,0.1]),(73.15,[0.7,0.3]),(73.65,[0.6,0.3,0.1]),(74.15,[0.5,0.2]),(74.65,[0.5,0.2]),(75.15,[0.4,0.1]),(75.65,[0.4,0.1]),(76.15,[0.4,0.1]),(76.65,[0.3,0.1]),(77.15,[0.3,0.1]),(77.6,[0.2])]

ALL_SERIES = [FEOT, CAO, NA2O, K2O, AL2O3, TIO2, P2O5, MGO]
rows = []
for name, cols in zip(SERIES, ALL_SERIES):
    for x, ys in cols:
        for y in ys:
            rows.append({"SiO2": x, "Oxide": y, "series": name})
df = pd.DataFrame(rows)

points = alt.Chart(df).mark_point(opacity=1).encode(
    x=alt.X("SiO2:Q", scale=alt.Scale(domain=[40, 80], nice=False),
            axis=alt.Axis(values=list(range(40, 85, 5)), title="SiO₂", titleFontSize=24, titleColor="#000080",
                          titleFontWeight="bold", titleFont="Liberation Sans", titlePadding=8, labelFlush=False,
                          labelFont="Liberation Sans", labelFontSize=14, labelColor="#000000", labelPadding=6,
                          grid=True, gridColor="#000000", gridWidth=1, domainColor="#000000", tickColor="#000000", tickSize=5)),
    y=alt.Y("Oxide:Q", scale=alt.Scale(domain=[0, 24], nice=False),
            axis=alt.Axis(values=list(range(0, 26, 2)), title="Oxides", titleFontSize=24, titleColor="#000080",
                          titleFontWeight="bold", titleFont="Liberation Sans", titlePadding=9, labelFlush=False,
                          labelFont="Liberation Sans", labelFontSize=14, labelColor="#000000", labelPadding=4,
                          grid=True, gridColor="#000000", gridWidth=1, domainColor="#000000", tickColor="#000000", tickSize=5)),
    fill=alt.Fill("series:N", scale=alt.Scale(domain=SERIES, range=FILLS),
                  legend=alt.Legend(title=None, orient="none", legendX=850, legendY=138, fillColor="#ffffff",
                                    strokeColor="#000000", padding=5, labelFont="Liberation Sans", labelFontSize=13,
                                    labelColor="#000080", rowPadding=7, labelOffset=1, symbolOpacity=1)),
    stroke=alt.Stroke("series:N", scale=alt.Scale(domain=SERIES, range=STROKES)),
    shape=alt.Shape("series:N", scale=alt.Scale(domain=SERIES, range=SHAPES)),
    size=alt.Size("series:N", scale=alt.Scale(domain=SERIES, range=SIZES)),
    strokeWidth=alt.StrokeWidth("series:N", scale=alt.Scale(domain=SERIES, range=WIDTHS), legend=None),
)

chart = points.properties(
    width=844, height=457,
    title=alt.TitleParams("ANDES, ALL.", font="Liberation Sans", fontSize=35, fontWeight="bold", color="#993300",
                          anchor="middle", offset=1),
    padding={"left": 55, "top": 46, "right": 69, "bottom": 54},
    autosize=alt.AutoSizeParams(type="none"),
    background="#ffffff",
).configure_view(fill="#c0c0c0", stroke="#808080")

chart.save("out.html", embed_options={"renderer": "svg", "actions": False})
